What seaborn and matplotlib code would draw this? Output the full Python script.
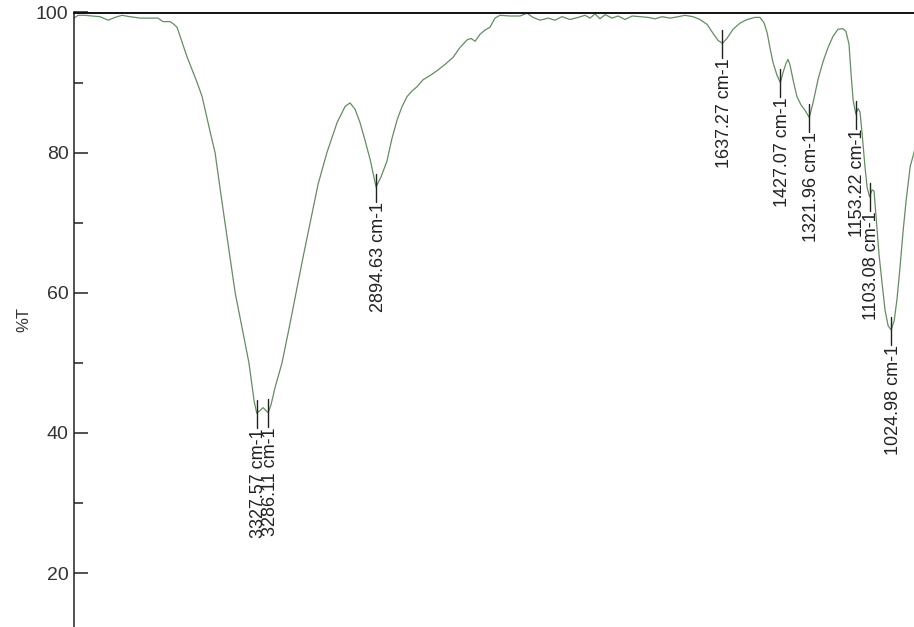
import matplotlib
matplotlib.use("Agg")
import matplotlib.pyplot as plt
from matplotlib.ticker import MultipleLocator
import numpy as np
import pandas as pd
import seaborn as sns

# Infrared transmission spectrum (wavenumber in cm-1, transmittance in %T)
wavenumber = [
    3991, 3976, 3951, 3926, 3896, 3867, 3842, 3817, 3788, 3751, 3715, 3686,
    3668, 3642, 3628, 3617, 3581, 3544, 3526, 3497, 3479, 3454, 3428, 3406,
    3381, 3356, 3337, 3327.57, 3316, 3305, 3294, 3286.11, 3276, 3261, 3236,
    3210, 3185, 3160, 3134, 3105, 3073, 3036, 3007, 2989, 2971, 2953, 2935,
    2916, 2894.63, 2877, 2855, 2837, 2818, 2800, 2782, 2764, 2746, 2724, 2699,
    2673, 2644, 2615, 2590, 2564, 2550, 2535, 2517, 2499, 2481, 2463, 2445,
    2408, 2372, 2347, 2325, 2299, 2270, 2245, 2220, 2190, 2161, 2136, 2118,
    2100, 2082, 2063, 2038, 2016, 1991, 1965, 1936, 1907, 1882, 1857, 1827,
    1798, 1773, 1744, 1719, 1693, 1671, 1653, 1637.27, 1621, 1599, 1573, 1548,
    1519, 1501, 1486, 1475, 1465, 1454, 1439, 1427.07, 1417, 1406, 1399, 1392,
    1381, 1367, 1352, 1337, 1321.96, 1308, 1290, 1272, 1254, 1236, 1218, 1200,
    1189, 1178, 1170, 1163, 1153.22, 1145, 1138, 1131, 1120, 1112, 1103.08,
    1094, 1087, 1080, 1069, 1058, 1047, 1036, 1024.98, 1014, 1004, 993, 982,
    971, 956, 942, 930,
]
transmittance = [
    99.2, 99.6, 99.6, 99.5, 99.4, 98.9, 99.3, 99.6, 99.4, 99.2, 99.2, 99.2,
    98.7, 98.7, 98.3, 97.9, 93.7, 90.0, 88.0, 83.0, 80.0, 73.0, 66.0, 60.0,
    55.0, 50.0, 44.5, 42.8, 43.2, 43.6, 43.2, 42.9, 44.0, 46.5, 50.0,
    55.0, 60.0, 65.0, 70.0, 75.5, 80.0, 84.3, 86.6, 87.1, 86.2, 84.3, 81.8,
    79.0, 75.1, 76.5, 78.8, 82.0, 84.7, 86.6, 88.0, 88.8, 89.4, 90.4, 91.0,
    91.7, 92.6, 93.6, 95.0, 96.1, 96.3, 95.9, 96.9, 97.5, 97.9, 99.2, 99.6,
    99.5, 99.5, 99.9, 99.3, 98.9, 99.2, 98.9, 99.4, 99.0, 99.3, 99.6, 99.2,
    99.8, 99.1, 99.7, 99.2, 99.5, 99.0, 99.5, 99.4, 99.3, 99.1, 99.4, 99.2,
    99.4, 99.6, 99.4, 99.0, 98.3, 97.0, 96.0, 95.6, 96.3, 97.6, 98.5, 99.0,
    99.3, 99.3, 98.5, 97.1, 95.0, 92.9, 91.0, 90.0, 91.5, 92.8, 93.3, 92.5,
    90.4, 88.0, 86.8, 86.0, 85.0, 87.2, 90.5, 93.0, 95.0, 96.6, 97.6, 97.7,
    97.3, 95.5, 91.0, 87.5, 85.5, 86.3, 85.8, 83.0, 78.0, 75.0, 73.7,
    74.7, 74.5, 71.0, 65.5, 61.4, 57.5, 55.3, 54.7, 56.0, 59.0, 63.5, 68.6,
    73.0, 78.0, 80.0, 82.5,
]

# Picked peaks and their labels
peak_positions = [3327.57, 3286.11, 2894.63, 1637.27, 1427.07, 1321.96,
                  1153.22, 1103.08, 1024.98]
peak_values = [42.8, 42.9, 75.1, 95.6, 90.0, 85.0, 85.5, 73.7, 54.7]
peak_labels = [f"{p:.2f} cm-1" for p in peak_positions]

y_ticks = [20, 40, 60, 80, 100]

sns.set_style("ticks")
plt.rcParams["font.family"] = ["Liberation Sans", "DejaVu Sans"]

W, H = 914, 627
fig = plt.figure(figsize=(W / 100, H / 100), dpi=100)
ax = fig.add_axes([74 / W, 0.0, 1 - 74 / W, 1 - 12.5 / H])

df = pd.DataFrame({"wavenumber": wavenumber, "T": transmittance})
sns.lineplot(data=df, x="wavenumber", y="T", ax=ax, color="#648c62",
             linewidth=0.9, sort=False)

ax.set_xlim(3991, 942)
ax.set_ylim(12.3, 100)

# Peak markers and rotated labels
for pos, val, lab in zip(peak_positions, peak_values, peak_labels):
    ax.plot([pos, pos], [val + 1.9, val - 2.1], color="#222222", lw=1.0)
    ax.annotate(lab, xy=(pos, val - 2.1), xytext=(1.5, 0),
                textcoords="offset points", rotation=90, ha="center",
                va="top", fontsize=13, color="#222222")

ax.yaxis.set_major_locator(MultipleLocator(20))
ax.yaxis.set_minor_locator(MultipleLocator(10))
ax.set_yticks(y_ticks)
ax.set_yticklabels([str(t) for t in y_ticks], fontsize=14, color="#333333")
ax.tick_params(axis="y", which="major", direction="in", length=10,
               width=1.1, pad=4, color="#222222")
ax.tick_params(axis="y", which="minor", direction="in", length=6.5,
               width=1.1, color="#222222")
ax.set_xticks([])
ax.set_xlabel("")
ax.set_ylabel("%T", fontsize=12, color="#333333", labelpad=3)

for side in ("right", "bottom"):
    ax.spines[side].set_visible(False)
ax.spines["left"].set_linewidth(1.1)
ax.spines["left"].set_color("#222222")
ax.spines["top"].set_linewidth(1.4)
ax.spines["top"].set_color("#111111")

fig.savefig("out.png", dpi=100)
